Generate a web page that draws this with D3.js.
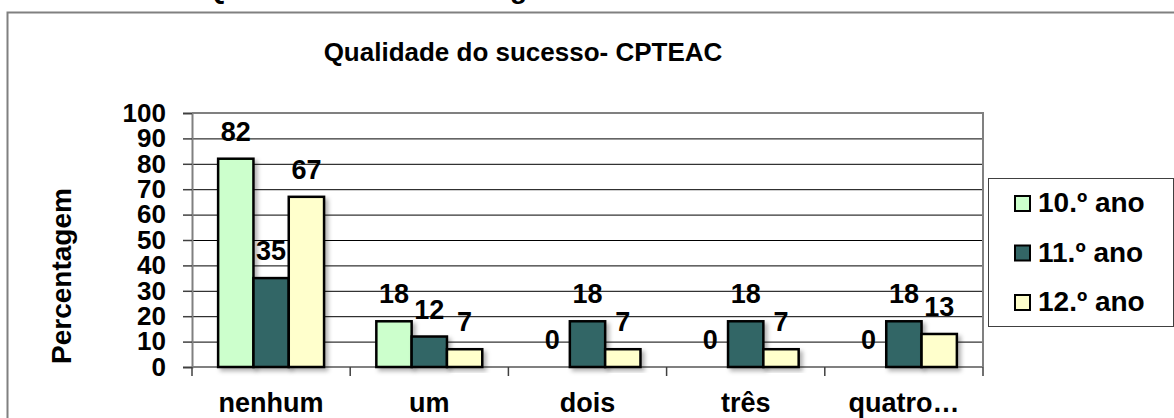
<!DOCTYPE html>
<html>
<head>
<meta charset="utf-8">
<script src="https://cdn.jsdelivr.net/npm/d3@7"></script>
<style>
    body { margin: 0; background: #fff; }
    svg text { font-family: "Liberation Sans", Arial, sans-serif; font-weight: bold; fill: #000; }
</style>
</head>
<body>
<div id="chart"></div>
<script>
// data
let categories = ['nenhum', 'um', 'dois', 'três', 'quatro…'];
let seriesNames = ['10.º ano', '11.º ano', '12.º ano'];
let ano10 = [82, 18, 0, 0, 0];
let ano11 = [35, 12, 18, 18, 18];
let ano12 = [67, 7, 7, 7, 13];
let yTicks = [0, 10, 20, 30, 40, 50, 60, 70, 80, 90, 100];
let chartTitle = 'Qualidade do sucesso- CPTEAC';
let yTitle = 'Percentagem';
let captionPrefix = 'Gráfico 4 -';
let caption = 'Qualidade do sucesso global';

let seriesValues = [ano10, ano11, ano12];
let colors = ['#CCFFCC', '#336666', '#FFFFCC'];

let width = 1174, height = 418;
let svg = d3.select('#chart').append('svg')
    .attr('width', width)
    .attr('height', height);

// shadow for bars
let defs = svg.append('defs');
let filter = defs.append('filter').attr('id', 'shadow')
    .attr('x', '-20%').attr('y', '-20%').attr('width', '150%').attr('height', '150%');
filter.append('feDropShadow')
    .attr('dx', 3).attr('dy', 3)
    .attr('stdDeviation', 2)
    .attr('flood-color', '#000')
    .attr('flood-opacity', 0.3);

// caption cut at the top of the picture
svg.append('text')
    .attr('x', 70).attr('y', -2)
    .style('font-size', '28px')
    .text(captionPrefix);
svg.append('text')
    .attr('x', 205).attr('y', -2)
    .style('font-size', '28px')
    .text(caption);

// outer chart frame
svg.append('rect')
    .attr('x', 7.5).attr('y', 12.5)
    .attr('width', 1300).attr('height', 600)
    .style('fill', 'none')
    .style('stroke', '#808080')
    .style('stroke-width', 2);

// title
svg.append('text')
    .attr('x', 523).attr('y', 61)
    .style('text-anchor', 'middle')
    .style('font-size', '26px')
    .text(chartTitle);

// scales
let plot = {left: 192, right: 983, top: 113, bottom: 367};
let x = d3.scaleBand()
    .domain(categories)
    .range([plot.left, plot.right]);
let xs = d3.scaleBand()
    .domain(seriesNames)
    .range([0, x.bandwidth()])
    .paddingInner(0)
    .paddingOuter(0.74);
let y = d3.scaleLinear()
    .domain([0, 100])
    .range([plot.bottom, plot.top]);

// gridlines
svg.append('g').selectAll('line')
    .data(yTicks.filter(d => d > 0 && d < 100))
    .enter()
    .append('line')
    .attr('x1', plot.left).attr('x2', plot.right)
    .attr('y1', d => y(d) + 0.5).attr('y2', d => y(d) + 0.5)
    .style('stroke', '#000')
    .style('stroke-width', 1);

// plot border top and right
svg.append('path')
    .attr('d', `M${plot.left},${y(100)}H${plot.right}V${plot.bottom}`)
    .style('fill', 'none')
    .style('stroke', '#808080')
    .style('stroke-width', 2);

// y axis
let yAxisG = svg.append('g')
    .attr('transform', `translate(${plot.left},0)`)
    .call(d3.axisLeft(y).tickValues(yTicks).tickSize(9).tickPadding(17));
yAxisG.select('.domain').style('stroke', '#808080').style('stroke-width', 2);
yAxisG.selectAll('.tick line').style('stroke', '#404040').style('stroke-width', 1.5);
yAxisG.selectAll('text')
    .style('font-size', '26px')
    .style('font-family', '"Liberation Sans", Arial, sans-serif')
    .style('font-weight', 'bold')
    .attr('fill', '#000');

// y title
svg.append('text')
    .attr('transform', 'translate(71,276) rotate(-90)')
    .style('text-anchor', 'middle')
    .style('font-size', '28px')
    .text(yTitle);

// x axis
let xAxisG = svg.append('g')
    .attr('transform', `translate(0,${plot.bottom})`)
    .call(d3.axisBottom(x).tickSize(0).tickPadding(26));
xAxisG.select('.domain').remove();
xAxisG.selectAll('text')
    .style('font-size', '27px')
    .style('font-family', '"Liberation Sans", Arial, sans-serif')
    .style('font-weight', 'bold')
    .attr('fill', '#000');
svg.append('line')
    .attr('x1', plot.left).attr('x2', plot.right)
    .attr('y1', plot.bottom).attr('y2', plot.bottom)
    .style('stroke', '#808080')
    .style('stroke-width', 2);
// category separators
let boundaries = categories.map(c => x(c)).concat([plot.right]);
svg.append('g').selectAll('line')
    .data(boundaries)
    .enter()
    .append('line')
    .attr('x1', d => d).attr('x2', d => d)
    .attr('y1', plot.bottom).attr('y2', plot.bottom + 9)
    .style('stroke', '#404040')
    .style('stroke-width', 1.5);

// bars
let barData = [];
categories.forEach((c, i) => {
    seriesNames.forEach((s, j) => {
        barData.push({cat: c, series: s, value: seriesValues[j][i], color: colors[j]});
    });
});

let barG = svg.append('g');
barG.selectAll('rect')
    .data(barData.filter(d => d.value > 0))
    .enter()
    .append('rect')
    .attr('x', d => x(d.cat) + xs(d.series))
    .attr('y', d => y(d.value))
    .attr('width', xs.bandwidth())
    .attr('height', d => y(0) - y(d.value))
    .style('fill', d => d.color)
    .style('stroke', '#000')
    .style('stroke-width', 2.5)
    .style('filter', 'url(#shadow)');

// data labels
svg.append('g').selectAll('text')
    .data(barData)
    .enter()
    .append('text')
    .attr('x', d => x(d.cat) + xs(d.series) + xs.bandwidth() / 2)
    .attr('y', d => y(d.value) - 18)
    .style('text-anchor', 'middle')
    .style('font-size', '27px')
    .text(d => d.value);

// legend
let legendG = svg.append('g').attr('transform', 'translate(988,178)');
legendG.append('rect')
    .attr('x', 0.5).attr('y', 0.5)
    .attr('width', 185).attr('height', 148)
    .style('fill', '#fff')
    .style('stroke', '#404040')
    .style('stroke-width', 1);
let items = legendG.selectAll('g.item')
    .data(seriesNames)
    .enter()
    .append('g')
    .attr('class', 'item')
    .attr('transform', (d, i) => `translate(0,${34 + i * 49.5})`);
items.append('rect')
    .attr('x', 27).attr('y', -16)
    .attr('width', 15).attr('height', 15)
    .style('fill', (d, i) => colors[i])
    .style('stroke', '#000')
    .style('stroke-width', 2);
items.append('text')
    .attr('x', 50).attr('y', 0)
    .style('font-size', '28px')
    .text(d => d);
</script>
</body>
</html>
